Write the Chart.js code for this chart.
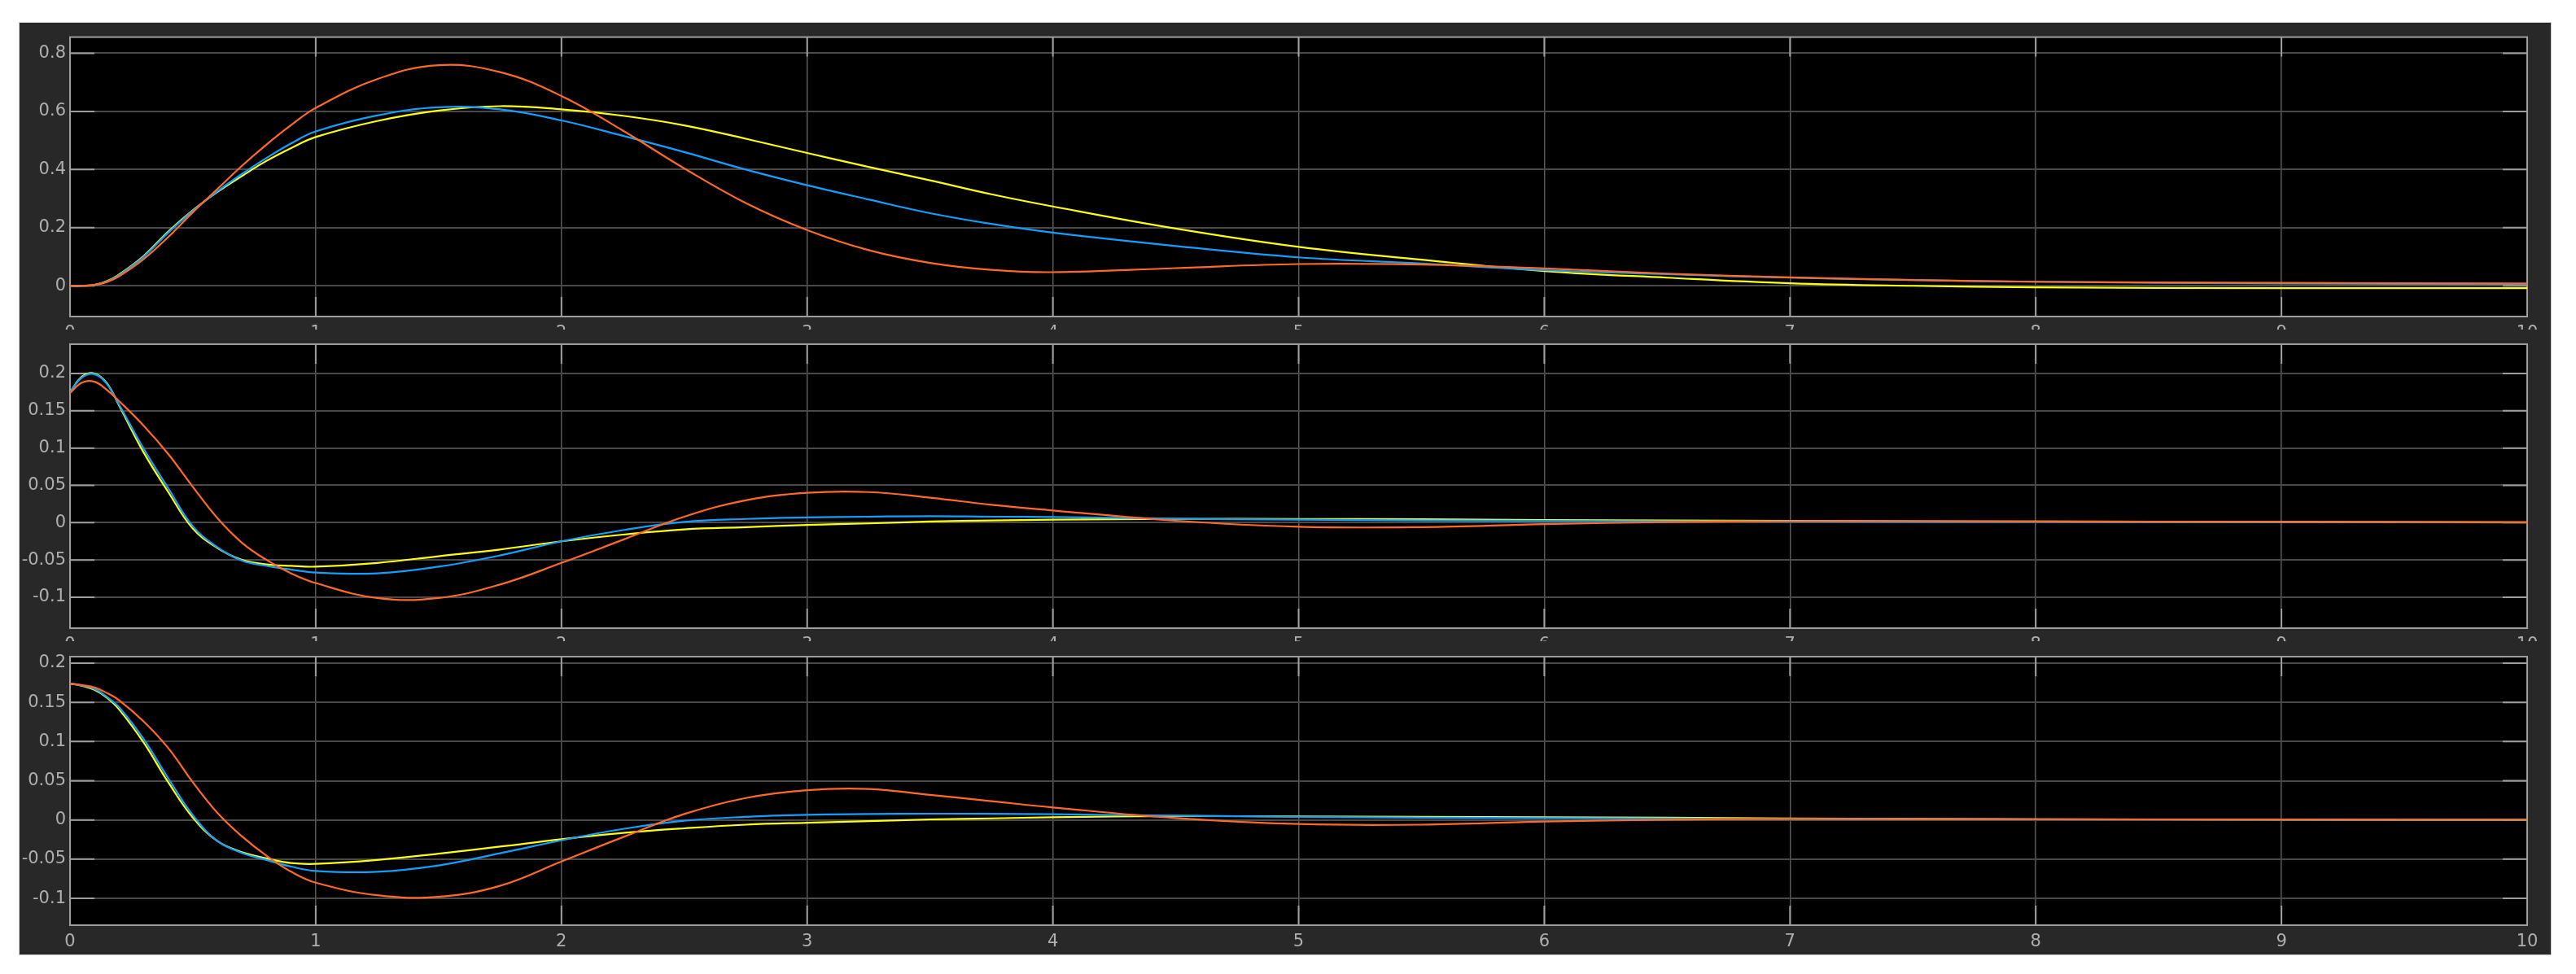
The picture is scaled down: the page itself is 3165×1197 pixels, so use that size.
<!DOCTYPE html>
<html>
<head>
<meta charset="utf-8">
<script src="https://cdn.jsdelivr.net/npm/chart.js@4/dist/chart.umd.min.js"></script>
<style>
body{margin:0;background:#fff;width:3165px;height:1197px;overflow:hidden}
.scope{position:absolute;left:24px;top:28px;width:3110px;height:1145px;background:#282828;box-shadow:0 0 0 1px #d0d0d0}
.sub{position:absolute;left:0;width:3110px;overflow:hidden}
.sub canvas{display:block}
</style>
</head>
<body>
<div class="scope">
  <div class="sub" style="top:0;height:377px"><canvas id="scope1" width="3110" height="391"></canvas></div>
  <div class="sub" style="top:377px;height:383px"><canvas id="scope2" width="3110" height="397"></canvas></div>
  <div class="sub" style="top:760px;height:385px"><canvas id="scope3" width="3110" height="379"></canvas></div>
</div>
<script>
// time axis (s)
const time = [0, 0.05, 0.1, 0.15, 0.2, 0.3, 0.4, 0.5, 0.6, 0.7, 0.8, 0.9, 1.0, 1.25, 1.5, 1.75, 2.0, 2.25, 2.5, 2.75, 3.0, 3.25, 3.5, 3.75, 4.0, 4.5, 5.0, 5.5, 6.0, 6.5, 7.0, 7.5, 8.0, 9.0, 10.0]

const xTicks = [0, 1, 2, 3, 4, 5, 6, 7, 8, 9, 10]
const yTicks1 = [0, 0.2, 0.4, 0.6, 0.8]
const yTicks2 = [-0.1, -0.05, 0, 0.05, 0.1, 0.15, 0.2]
const yTicks3 = [-0.1, -0.05, 0, 0.05, 0.1, 0.15, 0.2]

// top scope
const yellow1 = [0, 0, 0.003, 0.016, 0.039, 0.103, 0.187, 0.26, 0.323, 0.378, 0.43, 0.474, 0.512, 0.567, 0.603, 0.618, 0.607, 0.585, 0.552, 0.506, 0.457, 0.409, 0.363, 0.315, 0.273, 0.197, 0.134, 0.09, 0.051, 0.028, 0.009, 0.0, -0.005, -0.008, -0.008]
const blue1 = [0, 0, 0.003, 0.015, 0.037, 0.1, 0.183, 0.258, 0.325, 0.385, 0.44, 0.49, 0.531, 0.586, 0.614, 0.607, 0.569, 0.516, 0.46, 0.4, 0.346, 0.297, 0.25, 0.213, 0.183, 0.137, 0.098, 0.077, 0.054, 0.04, 0.028, 0.02, 0.014, 0.008, 0.006]
const orange1 = [0, 0, 0.003, 0.013, 0.033, 0.092, 0.168, 0.253, 0.333, 0.413, 0.486, 0.553, 0.612, 0.711, 0.759, 0.735, 0.653, 0.534, 0.404, 0.285, 0.192, 0.123, 0.079, 0.055, 0.047, 0.061, 0.075, 0.073, 0.06, 0.042, 0.029, 0.02, 0.014, 0.01, 0.008]

// middle scope
const yellow2 = [0.175, 0.196, 0.2, 0.187, 0.157, 0.094, 0.041, -0.008, -0.034, -0.05, -0.056, -0.058, -0.059, -0.054, -0.045, -0.036, -0.025, -0.016, -0.009, -0.006, -0.003, -0.001, 0.0015, 0.003, 0.004, 0.005, 0.005, 0.0045, 0.0036, 0.003, 0.0025, 0.002, 0.0015, 0.001, 0.0005]
const blue2 = [0.175, 0.195, 0.199, 0.186, 0.158, 0.099, 0.046, -0.005, -0.033, -0.051, -0.058, -0.063, -0.067, -0.068, -0.059, -0.044, -0.025, -0.01, 0.001, 0.005, 0.007, 0.008, 0.0087, 0.008, 0.0076, 0.0055, 0.004, 0.003, 0.0025, 0.002, 0.0015, 0.001, 0.001, 0.0005, 0.0003]
const orange2 = [0.174, 0.188, 0.189, 0.178, 0.163, 0.13, 0.092, 0.048, 0.006, -0.027, -0.05, -0.068, -0.081, -0.101, -0.101, -0.083, -0.054, -0.023, 0.008, 0.03, 0.04, 0.041, 0.0335, 0.024, 0.0164, 0.0025, -0.0055, -0.006, -0.002, 0.0007, 0.002, 0.002, 0.0015, 0.001, 0.0005]

// bottom scope
const yellow3 = [0.174, 0.171, 0.166, 0.156, 0.141, 0.0986, 0.048, 0.003, -0.027, -0.041, -0.049, -0.055, -0.056, -0.051, -0.043, -0.034, -0.0246, -0.0166, -0.0107, -0.006, -0.0035, -0.0015, 0.0007, 0.002, 0.0035, 0.005, 0.0045, 0.004, 0.0035, 0.003, 0.002, 0.0015, 0.001, 0.0005, 0.0003]
const blue3 = [0.174, 0.1716, 0.167, 0.157, 0.1436, 0.103, 0.053, 0.006, -0.027, -0.042, -0.051, -0.0595, -0.065, -0.066, -0.058, -0.0425, -0.026, -0.0115, -0.001, 0.004, 0.0066, 0.0075, 0.008, 0.0078, 0.0073, 0.0055, 0.004, 0.003, 0.0025, 0.0018, 0.0013, 0.001, 0.0007, 0.0004, 0.0002]
const orange3 = [0.174, 0.172, 0.169, 0.162, 0.1526, 0.1256, 0.0917, 0.048, 0.009, -0.021, -0.0457, -0.066, -0.08, -0.096, -0.098, -0.084, -0.053, -0.022, 0.0076, 0.028, 0.038, 0.0395, 0.032, 0.024, 0.016, 0.0024, -0.0052, -0.006, -0.002, 0.0003, 0.0014, 0.0012, 0.001, 0.0005, 0.0002]

Chart.defaults.font.family = '"DejaVu Sans", sans-serif'
Chart.defaults.font.size = 21
Chart.defaults.color = '#afafaf'

// black plot area, inward ticks and box like the scope window
const scopeFrame = {
    id: 'scopeFrame',
    beforeDraw(chart){
        const {ctx, chartArea} = chart
        ctx.fillStyle = '#000'
        ctx.fillRect(chartArea.left, chartArea.top, chartArea.width, chartArea.height)
    },
    beforeDatasetsDraw(chart){
        const {ctx, chartArea: a, scales} = chart
        ctx.save()
        ctx.strokeStyle = '#9e9e9e'
        ctx.lineWidth = 2
        ctx.beginPath()
        scales.y.ticks.forEach(function(t){
            const y = scales.y.getPixelForValue(t.value)
            ctx.moveTo(a.left, y); ctx.lineTo(a.left + 30, y)
            ctx.moveTo(a.right - 30, y); ctx.lineTo(a.right, y)
        })
        scales.x.ticks.forEach(function(t){
            const x = scales.x.getPixelForValue(t.value)
            ctx.moveTo(x, a.top); ctx.lineTo(x, a.top + 24)
            ctx.moveTo(x, a.bottom - 24); ctx.lineTo(x, a.bottom)
        })
        ctx.stroke()
        ctx.strokeRect(a.left, a.top, a.width, a.height)
        ctx.restore()
    }
}

const toPoints = (vals) => time.map((t, i) => ({x: t, y: vals[i]}))

const line = (vals, color) => ({
    data: toPoints(vals),
    borderColor: color,
    borderWidth: 2.2,
    pointRadius: 0,
    fill: false,
    tension: 0.4
})

const makeScope = (id, yellow, blue, orange, yMin, yMax, yTicks, padTop) => {
    const ctx = document.getElementById(id).getContext('2d')
    return new Chart(ctx, {
        type: 'line',
        data: {
            // first dataset is drawn on top
            datasets: [
                line(orange, '#ff6929'),
                line(blue, '#139fff'),
                line(yellow, '#ffff11')
            ]
        },
        options: {
            responsive: false,
            animation: false,
            events: [],
            layout: {padding: {left: 0, right: 29, top: padTop, bottom: 0}},
            plugins: {legend: {display: false}, tooltip: {enabled: false}},
            scales: {
                x: {
                    type: 'linear',
                    min: 0,
                    max: 10,
                    afterBuildTicks: (s) => { s.ticks = xTicks.map(v => ({value: v})) },
                    afterFit: (s) => { s.height = 30 },
                    grid: {color: '#5a5a5a', lineWidth: 1.5, drawTicks: false},
                    border: {display: false},
                    ticks: {padding: 8, maxRotation: 0, autoSkip: false, callback: (v) => String(v)}
                },
                y: {
                    type: 'linear',
                    min: yMin,
                    max: yMax,
                    afterBuildTicks: (s) => { s.ticks = yTicks.map(v => ({value: v})) },
                    afterFit: (s) => { s.width = 62 },
                    grid: {color: '#4a4a4a', lineWidth: 2, drawTicks: false},
                    border: {display: false},
                    ticks: {padding: 5, autoSkip: false, callback: (v) => String(+v.toFixed(2))}
                }
            }
        },
        plugins: [scopeFrame]
    })
}

makeScope('scope1', yellow1, blue1, orange1, -0.1056, 0.8556, yTicks1, 15)
makeScope('scope2', yellow2, blue2, orange2, -0.1415, 0.2393, yTicks2, 18)
makeScope('scope3', yellow3, blue3, orange3, -0.1342, 0.2083, yTicks3, 19)
</script>
</body>
</html>
